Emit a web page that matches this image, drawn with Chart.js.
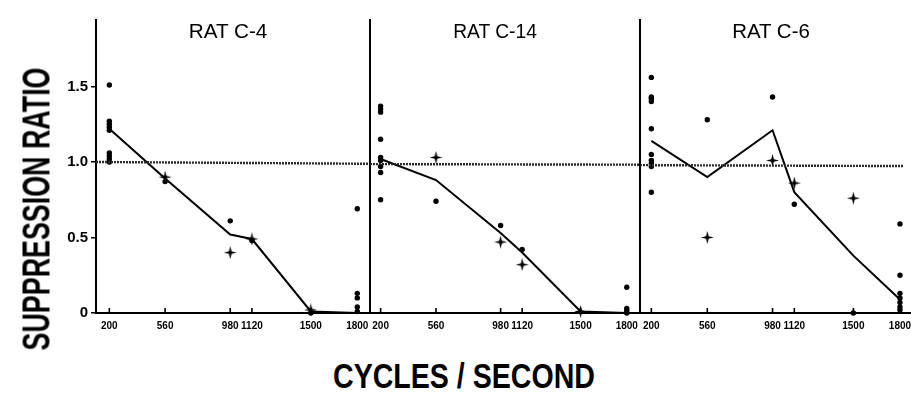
<!DOCTYPE html>
<html><head><meta charset="utf-8">
<script src="https://cdn.jsdelivr.net/npm/chart.js@4"></script>
<style>
html,body{margin:0;padding:0;background:#fff;}
#wrap{position:relative;width:911px;height:393px;overflow:hidden;background:#fff;}
#wrap canvas{position:absolute;top:0;}
.lbl{position:absolute;white-space:nowrap;line-height:1;color:#000;transform-origin:center center;}
</style></head><body>
<div id="wrap">
<canvas id="p1" width="340" height="340" style="left:30px"></canvas>
<canvas id="p2" width="280" height="340" style="left:360px"></canvas>
<canvas id="p3" width="281" height="340" style="left:630px"></canvas>
</div>
<script>
// ---- data ----
const frequencies = [200, 560, 980, 1120, 1500, 1800];
const tickLabels = ['200', '560', '980', '1120', '1500', '1800'];
const ratioTicks = [0, 0.5, 1.0, 1.5];
const ratioTickLabels = ['0', '0.5', '1.0', '1.5'];
const panelTitles = ['RAT C-4', 'RAT C-14', 'RAT C-6'];
const xAxisTitle = 'CYCLES / SECOND';
const yAxisTitle = 'SUPPRESSION RATIO';

// reference (ratio = 1) line, start/end value per panel
const c4Reference = [1.0, 0.988];
const c14Reference = [0.986, 0.982];
const c6Reference = [0.979, 0.973];

// median curves
const c4Curve = [1.22, 0.89, 0.52, 0.49, 0.01, 0.0];
const c14Curve = [1.02, 0.88, 0.53, 0.40, 0.01, 0.0];
const c6Curve = [1.14, 0.90, 1.21, 0.80, 0.38, 0.09];

// individual sessions (dots) [frequency, ratio]
const c4Dots = [[200,1.51],[200,1.27],[200,1.25],[200,1.23],[200,1.21],[200,1.06],[200,1.04],[200,1.02],[200,1.00],
  [560,0.87],[980,0.61],[1120,0.48],[1500,0.0],[1800,0.69],[1800,0.13],[1800,0.10],[1800,0.04],[1800,0.01]];
const c14Dots = [[200,1.37],[200,1.35],[200,1.33],[200,1.15],[200,1.03],[200,1.01],[200,0.97],[200,0.93],[200,0.75],
  [560,0.74],[980,0.58],[1120,0.42],[1800,0.17],[1800,0.03],[1800,0.015],[1800,0.0]];
const c6Dots = [[200,1.56],[200,1.43],[200,1.42],[200,1.40],[200,1.22],[200,1.05],[200,1.01],[200,0.99],[200,0.97],[200,0.80],
  [560,1.28],[980,1.43],[1120,0.72],[1500,0.0],[1800,0.59],[1800,0.25],[1800,0.13],[1800,0.10],[1800,0.07],[1800,0.04],[1800,0.02]];

// stars [frequency, ratio]
const c4Stars = [[560,0.90],[980,0.40],[1120,0.49],[1500,0.02]];
const c14Stars = [[560,1.03],[980,0.47],[1120,0.32],[1500,0.01]];
const c6Stars = [[560,0.50],[980,1.01],[1120,0.86],[1500,0.76]];

// ---- star marker ----
const starImg = document.createElement('canvas');
starImg.width = 13; starImg.height = 13;
(function(){
  const c = starImg.getContext('2d'), m = 6.5, r = 6.5, ri = 1.9;
  c.fillStyle = '#000'; c.beginPath();
  for (let i = 0; i < 8; i++) {
    const a = i * Math.PI / 4 - Math.PI / 2;
    const rr = i % 2 === 0 ? r : ri;
    const px = m + rr * Math.cos(a), py = m + rr * Math.sin(a);
    if (i === 0) c.moveTo(px, py); else c.lineTo(px, py);
  }
  c.closePath(); c.fill();
})();

const innerTicks = {
  id: 'innerTicks',
  afterDatasetsDraw(chart) {
    const x = chart.scales.x, ctx = chart.ctx, b = chart.chartArea.bottom;
    ctx.save(); ctx.strokeStyle = '#000'; ctx.lineWidth = 1.6;
    frequencies.forEach(f => {
      const px = x.getPixelForValue(f);
      ctx.beginPath(); ctx.moveTo(px, b); ctx.lineTo(px, b - 5); ctx.stroke();
    });
    ctx.restore();
  }
};

function pts(arr) { return arr.map(p => ({x: p[0], y: p[1]})); }

function makePanel(id, cfg) {
  return new Chart(document.getElementById(id), {
    type: 'scatter',
    data: { datasets: [
      { type: 'line', data: [{x: cfg.xMin, y: cfg.ref[0]}, {x: cfg.refEnd, y: cfg.ref[1]}],
        borderColor: '#2a2a2a', borderWidth: 2.4, borderDash: [2, 1], pointRadius: 0, fill: false },
      { type: 'line', data: frequencies.map((f, i) => ({x: f, y: cfg.curve[i]})),
        borderColor: '#000', borderWidth: 2, pointRadius: 0, tension: 0, fill: false },
      { data: pts(cfg.dots), pointRadius: 2.7, backgroundColor: '#000', borderWidth: 0, pointStyle: 'circle', clip: false },
      { data: pts(cfg.stars), pointStyle: starImg, pointRadius: 6, clip: false }
    ]},
    options: {
      responsive: false, animation: false, devicePixelRatio: 1,
      layout: { autoPadding: false, padding: { top: 20, left: 0, right: 0, bottom: 0 } },
      plugins: { legend: { display: false }, tooltip: { enabled: false } },
      scales: {
        x: {
          type: 'linear', min: cfg.xMin, max: cfg.xMax,
          afterBuildTicks: s => { s.ticks = frequencies.map(v => ({value: v})); },
          afterFit: s => { s.height = 27; s.paddingLeft = 0; s.paddingRight = 0; },
          ticks: { autoSkip: false, maxRotation: 0, padding: 7, color: '#000',
            font: { family: 'Liberation Sans', size: 10, weight: 'bold' },
            callback: v => tickLabels[frequencies.indexOf(v)] },
          grid: { drawOnChartArea: false, drawTicks: false },
          border: { display: true, color: '#000', width: 2 }
        },
        y: {
          min: 0, max: 1.94,
          afterBuildTicks: s => { s.ticks = ratioTicks.map(v => ({value: v})); },
          afterFit: s => { s.width = cfg.yWidth; s.paddingTop = 0; s.paddingBottom = 0; },
          ticks: { display: cfg.showY, padding: 3, color: '#000',
            font: { family: 'Liberation Sans', size: 15, weight: 'bold' },
            callback: v => ratioTickLabels[ratioTicks.indexOf(v)] },
          grid: { drawOnChartArea: false, drawTicks: cfg.showY, tickLength: 5, color: '#000', lineWidth: 1.5 },
          border: { display: true, color: '#000', width: 2 }
        }
      }
    },
    plugins: [innerTicks]
  });
}

makePanel('p1', { xMin: 114, xMax: 1882, refEnd: 1882, ref: c4Reference, curve: c4Curve, dots: c4Dots, stars: c4Stars, yWidth: 66, showY: true });
makePanel('p2', { xMin: 131, xMax: 1886, refEnd: 1886, ref: c14Reference, curve: c14Curve, dots: c14Dots, stars: c14Stars, yWidth: 10, showY: false });
makePanel('p3', { xMin: 127, xMax: 1871, refEnd: 1820, ref: c6Reference, curve: c6Curve, dots: c6Dots, stars: c6Stars, yWidth: 10, showY: false });

// ---- text ----
const wrap = document.getElementById('wrap');
const mctx = document.createElement('canvas').getContext('2d');
function placeText(text, font, cx, cy, targetW, rotate) {
  const el = document.createElement('div');
  el.className = 'lbl'; el.textContent = text; el.style.font = font; el.style.lineHeight = '1';
  mctx.font = font;
  const s = targetW / mctx.measureText(text).width;
  el.style.left = cx + 'px'; el.style.top = cy + 'px';
  el.style.transform = 'translate(-50%,-50%) ' + (rotate ? 'rotate(-90deg) ' : '') + 'scaleX(' + s + ')';
  wrap.appendChild(el);
}
placeText(yAxisTitle, 'bold 39px "Liberation Sans"', 36, 209, 283, true);
placeText(xAxisTitle, 'bold 35px "Liberation Sans"', 464, 375, 262, false);
placeText(panelTitles[0], '21px "Liberation Sans"', 227.5, 30, 79, false);
placeText(panelTitles[1], '21px "Liberation Sans"', 495, 30, 84, false);
placeText(panelTitles[2], '21px "Liberation Sans"', 771, 30, 78, false);
</script>
</body></html>
